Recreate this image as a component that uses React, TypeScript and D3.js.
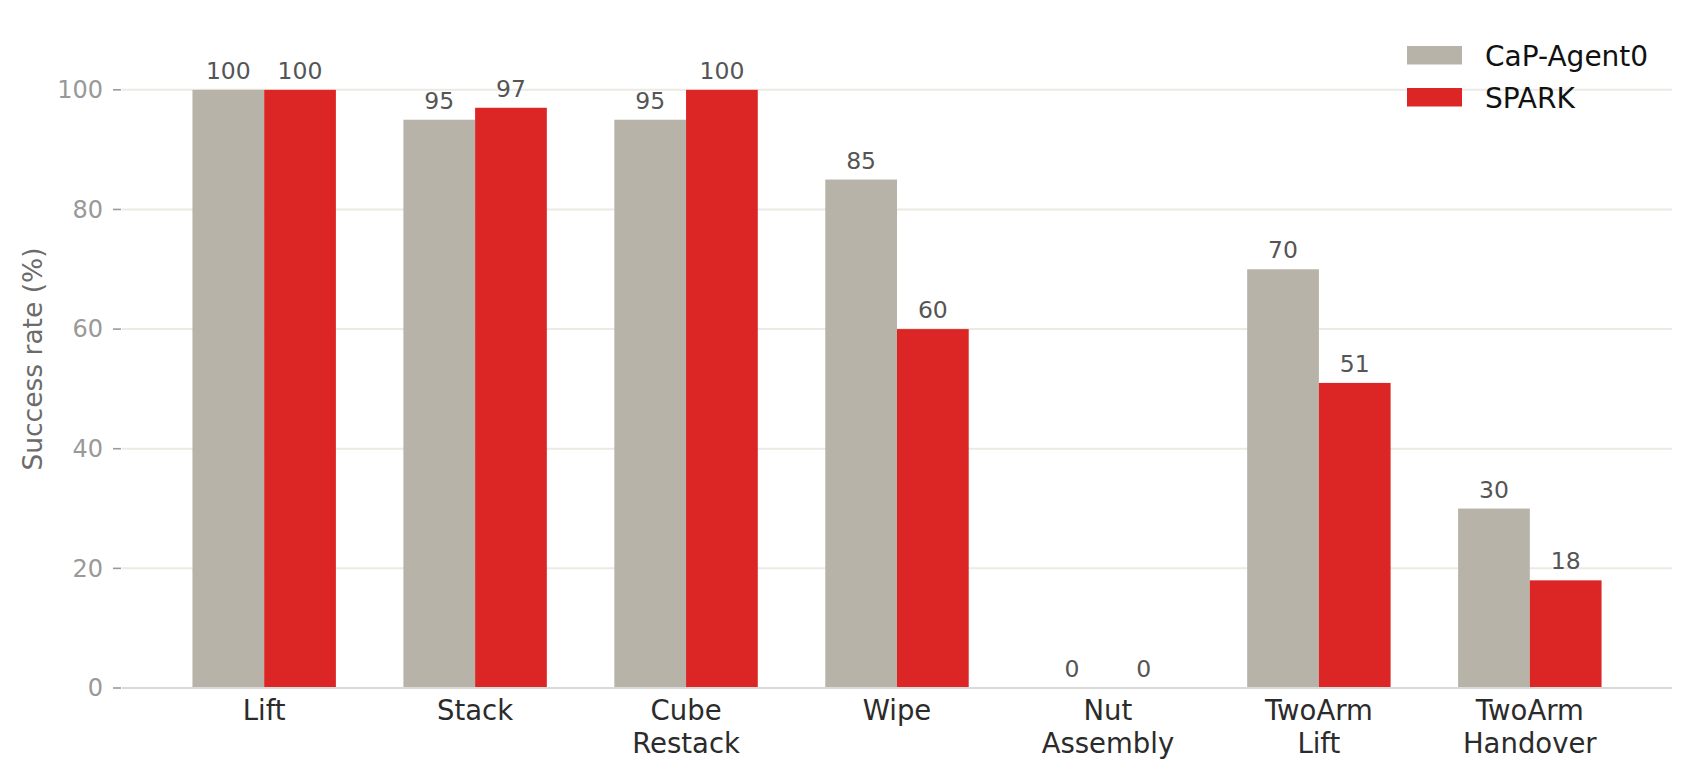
import * as d3 from "d3";

const categories = [
  ["Lift"],
  ["Stack"],
  ["Cube", "Restack"],
  ["Wipe"],
  ["Nut", "Assembly"],
  ["TwoArm", "Lift"],
  ["TwoArm", "Handover"],
];
const capAgent = [100, 95, 95, 85, 0, 70, 30];
const spark = [100, 97, 100, 60, 0, 51, 18];
const seriesNames = ["CaP-Agent0", "SPARK"];
const seriesColors = ["#b7b3a8", "#dc2626"];
const yTicks = [0, 20, 40, 60, 80, 100];

const W = 1690;
const H = 777;
const barW = 0.34;

export default function App() {
  const x = d3.scaleLinear().domain([-0.674, 6.674]).range([122, 1672]);
  const y = d3.scaleLinear().domain([0, 110]).range([688, 30]);
  const series = [capAgent, spark];
  const font = "DejaVu Sans, sans-serif";

  return (
    <svg width={W} height={H} style={{ position: "absolute", left: 0, top: 0 }} fontFamily={font}>
      <rect width={W} height={H} fill="#fff" />
      {/* grid */}
      {yTicks.filter((t) => t > 0).map((t) => (
        <line key={"g" + t} x1={x.range()[0]} x2={x.range()[1]} y1={y(t)} y2={y(t)} stroke="#edeae3" strokeWidth={2} />
      ))}
      {/* y ticks */}
      {yTicks.map((t) => (
        <g key={"t" + t}>
          <line x1={113} x2={121} y1={y(t)} y2={y(t)} stroke="#9a9a9a" strokeWidth={1.6} />
          <text x={103} y={y(t)} dy="0.35em" textAnchor="end" fontSize={24} fill="#999">{t}</text>
        </g>
      ))}
      <text transform={`translate(42,${(y(0) + y(110)) / 2}) rotate(-90)`} textAnchor="middle" fontSize={26.5} fill="#6b6b6b">
        Success rate (%)
      </text>
      {/* bars */}
      {series.map((vals, si) =>
        vals.map((v, i) => {
          const x0 = x(i + (si === 0 ? -barW : 0));
          const x1 = x(i + (si === 0 ? 0 : barW));
          return (
            <g key={`b${si}-${i}`}>
              <rect x={x0} y={y(v)} width={x1 - x0} height={y(0) - y(v)} fill={seriesColors[si]} />
              <text x={(x0 + x1) / 2} y={y(v) - 11} textAnchor="middle" fontSize={23.5} fill="#555">{v}</text>
            </g>
          );
        })
      )}
      {/* x axis */}
      <line x1={x.range()[0]} x2={x.range()[1]} y1={y(0)} y2={y(0)} stroke="#d9d9d9" strokeWidth={2} />
      {categories.map((lines, i) => (
        <text key={"c" + i} x={x(i)} y={720} textAnchor="middle" fontSize={27.5} fill="#2b2b2b">
          {lines.map((l, li) => (
            <tspan key={li} x={x(i)} dy={li === 0 ? 0 : 32.5}>{l}</tspan>
          ))}
        </text>
      ))}
      {/* legend */}
      {seriesNames.map((n, si) => (
        <g key={"l" + si} transform={`translate(1407,${46 + si * 42})`}>
          <rect width={55} height={18.5} fill={seriesColors[si]} />
          <text x={78} y={19.5} fontSize={28} fill="#111">{n}</text>
        </g>
      ))}
    </svg>
  );
}
